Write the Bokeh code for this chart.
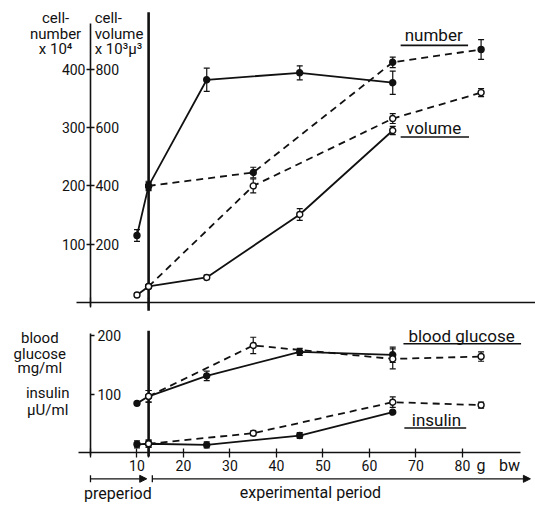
from bokeh.plotting import figure
from bokeh.models import (Range1d, LinearAxis, FixedTicker, ColumnDataSource,
                          Whisker, TeeHead, Arrow, NormalHead)
from bokeh.layouts import column
from bokeh.embed import file_html
from bokeh.resources import INLINE
from bokeh.core.properties import value

FONT = "Roboto"

# ---------------- data ----------------
START = 12.5                      # start of experimental period (g bw)
x_solid = [10, 12.5, 25, 45, 65]  # solid-line group
x_dashed = [12.5, 35, 65, 84]     # dashed-line group

num_solid = [115, 200, 382, 394, 377]
num_solid_err = [10, 8, 20, 12, 20]
num_dashed = [200, 223, 412, 434]
num_dashed_err = [6, 9, 9, 17]

vol_solid = [26, 55, 86, 302, 590]
vol_solid_err = [6, 6, 8, 20, 14]
vol_dashed = [55, 400, 631, 720]
vol_dashed_err = [6, 24, 17, 14]

glu_solid = [84, 96, 131, 172, 167]
glu_solid_err = [3, 10, 8, 6, 13]
glu_dashed = [96, 183, 160, 164]
glu_dashed_err = [10, 14, 17, 8]

ins_solid = [14, 15, 13, 29, 69]
ins_solid_err = [6, 6, 5, 5, 2]
ins_dashed = [15, 33, 86, 81]
ins_dashed_err = [6, 4, 9, 5]

num_ticks = [100, 200, 300, 400]
vol_ticks = [200, 400, 600, 800]
glu_ticks = [100, 200]
bw_ticks = [0, 10, 12.5, 20, 30, 40, 50, 60, 70, 80]

X_RANGE = (-19.35, 95.7)
INK = "#111111"


def make_fig(h, yr):
    p = figure(width=535, height=h, x_range=Range1d(*X_RANGE), y_range=yr,
               output_backend="svg", toolbar_location=None, title=None,
               x_axis_location=None, y_axis_location=None, min_border=0)
    p.xgrid.visible = False
    p.ygrid.visible = False
    p.outline_line_color = None
    return p


def txt(p, x, y, s, size="15px", align="center", **kw):
    p.text(x=[x], y=[y], text=[s], text_font=value(FONT), text_font_size=size,
           text_align=align, text_baseline="middle", text_color=INK, **kw)


def series(p, xs, ys, errs, dashed, filled, yname="default"):
    src = ColumnDataSource(dict(x=xs, y=ys,
                                lo=[a - b for a, b in zip(ys, errs)],
                                hi=[a + b for a, b in zip(ys, errs)]))
    p.line("x", "y", source=src, line_color=INK, line_width=1.8,
           line_dash="7 5" if dashed else "solid", y_range_name=yname)
    w = Whisker(source=src, base="x", lower="lo", upper="hi", dimension="height",
                line_color=INK, line_width=1.2, y_range_name=yname,
                lower_head=TeeHead(size=6, line_color=INK, line_width=1.2),
                upper_head=TeeHead(size=6, line_color=INK, line_width=1.2))
    p.add_layout(w)
    p.scatter("x", "y", source=src, size=6, marker="circle", line_color=INK,
              line_width=1.4, fill_color=INK if filled else "white",
              y_range_name=yname)


# ---------------- upper panel: cell number / cell volume ----------------
p1 = make_fig(316, Range1d(-24.0, 518.0))
p1.extra_y_ranges = {"vol": Range1d(-48.0, 1036.0)}

ax_n = LinearAxis(fixed_location=0, bounds=(-7, 478),
                  ticker=FixedTicker(ticks=num_ticks),
                  major_tick_in=4, major_tick_out=4, minor_tick_line_color=None,
                  axis_line_width=1.6, axis_line_color=INK,
                  major_tick_line_color=INK, major_tick_line_width=1.3,
                  major_label_standoff=1, major_label_text_font=FONT,
                  major_label_text_font_size="14px", major_label_text_color=INK)
p1.add_layout(ax_n, "left")
ax_v = LinearAxis(y_range_name="vol", fixed_location=0,
                  ticker=FixedTicker(ticks=vol_ticks),
                  axis_line_color=None, major_tick_line_color=None,
                  minor_tick_line_color=None, major_tick_in=0, major_tick_out=0,
                  major_label_standoff=5, major_label_text_font=FONT,
                  major_label_text_font_size="14px", major_label_text_color=INK)
p1.add_layout(ax_v, "right")
ax_x1 = LinearAxis(fixed_location=0, bounds=(-3, 95.7),
                   ticker=FixedTicker(ticks=[0, START]),
                   major_label_overrides={0: "", START: ""},
                   major_tick_in=5, major_tick_out=5, minor_tick_line_color=None,
                   axis_line_width=1.6, axis_line_color=INK,
                   major_tick_line_color=INK, major_tick_line_width=1.3)
p1.add_layout(ax_x1, "below")

p1.segment(x0=[START], y0=[-14], x1=[START], y1=[498], line_color=INK, line_width=2.6)

series(p1, x_solid, num_solid, num_solid_err, dashed=False, filled=True)
series(p1, x_dashed, num_dashed, num_dashed_err, dashed=True, filled=True)
series(p1, x_solid, vol_solid, vol_solid_err, dashed=False, filled=False, yname="vol")
series(p1, x_dashed, vol_dashed, vol_dashed_err, dashed=True, filled=False, yname="vol")

# axis headers
txt(p1, -7.5, 488, "cell-")
txt(p1, -7.5, 461, "number")
txt(p1, -7.5, 434, "x 10\u2074")
txt(p1, 0.9, 488, "cell-", align="left")
txt(p1, 0.9, 461, "volume", align="left")
txt(p1, 0.9, 434, "x 10\u00b3\u00b5\u00b3", align="left")
# curve labels
txt(p1, 73.8, 458, "number", size="17px")
p1.segment(x0=[66.7], y0=[441], x1=[81.2], y1=[441], line_color=INK, line_width=1.6)
txt(p1, 73.8, 300, "volume", size="17px")
p1.segment(x0=[66.7], y0=[284], x1=[81.4], y1=[284], line_color=INK, line_width=1.6)

# ---------------- lower panel: blood glucose / insulin ----------------
p2 = make_fig(189, Range1d(-90.6, 232.5))

ax_g = LinearAxis(fixed_location=0, bounds=(-5, 203),
                  ticker=FixedTicker(ticks=glu_ticks),
                  major_tick_in=0, major_tick_out=4, minor_tick_line_color=None,
                  axis_line_width=1.6, axis_line_color=INK,
                  major_tick_line_color=INK, major_tick_line_width=1.3,
                  major_label_standoff=3, major_label_text_font=FONT,
                  major_label_text_font_size="14px", major_label_text_color=INK)
p2.add_layout(ax_g, "right")
ax_x2 = LinearAxis(fixed_location=0, bounds=(-2.5, 92.5),
                   ticker=FixedTicker(ticks=bw_ticks),
                   major_label_overrides={0: "", START: ""},
                   major_tick_in=4, major_tick_out=5, minor_tick_line_color=None,
                   axis_line_width=1.6, axis_line_color=INK,
                   major_tick_line_color=INK, major_tick_line_width=1.3,
                   major_label_standoff=2, major_label_text_font=FONT,
                   major_label_text_font_size="14px", major_label_text_color=INK)
p2.add_layout(ax_x2, "below")

p2.segment(x0=[START], y0=[-7], x1=[START], y1=[208], line_color=INK, line_width=2.6)

series(p2, x_solid, glu_solid, glu_solid_err, dashed=False, filled=True)
series(p2, x_dashed, glu_dashed, glu_dashed_err, dashed=True, filled=False)
series(p2, x_solid, ins_solid, ins_solid_err, dashed=False, filled=True)
series(p2, x_dashed, ins_dashed, ins_dashed_err, dashed=True, filled=False)

txt(p2, -10.9, 195, "blood")
txt(p2, -10.9, 169, "glucose")
txt(p2, -10.9, 144, "mg/ml")
txt(p2, -9.2, 101, "insulin")
txt(p2, -9.2, 72, "\u00b5U/ml")

txt(p2, 79.8, 200, "blood glucose", size="17px")
p2.segment(x0=[67.3], y0=[186], x1=[92.6], y1=[186], line_color=INK, line_width=1.6)
txt(p2, 74.4, 55, "insulin", size="17px")
p2.segment(x0=[67.5], y0=[42], x1=[80.8], y1=[42], line_color=INK, line_width=1.6)

txt(p2, 84.0, -22, "g", size="16px")
txt(p2, 90.1, -22, "bw", size="16px")

# period arrows
p2.add_layout(Arrow(x_start=0, y_start=-45, x_end=12.1, y_end=-45,
                    line_color=INK, line_width=1.3,
                    start=TeeHead(size=7, line_color=INK, line_width=1.3),
                    end=NormalHead(size=7, line_color=INK, fill_color=INK)))
p2.add_layout(Arrow(x_start=13.3, y_start=-45, x_end=94.6, y_end=-45,
                    line_color=INK, line_width=1.3,
                    start=TeeHead(size=7, line_color=INK, line_width=1.3),
                    end=NormalHead(size=7, line_color=INK, fill_color=INK)))
txt(p2, 5.9, -70, "preperiod", size="16px")
txt(p2, 47.3, -69, "experimental period", size="16px")

layout = column(p1, p2, spacing=0)
open("out.html", "w").write(file_html(layout, INLINE))
